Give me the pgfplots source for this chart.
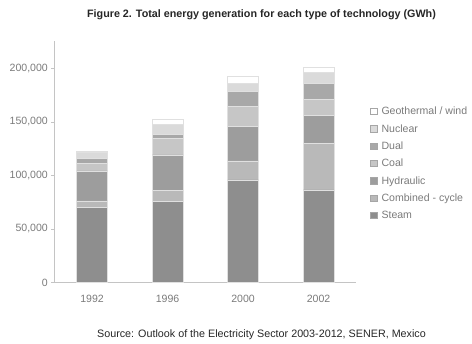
\documentclass[border=0pt]{standalone}
\usepackage{pgfplots}
\pgfplotsset{compat=1.18}
\usepackage{fontspec}
\setmainfont{Liberation Sans}
\definecolor{steam}{HTML}{8E8E8E}
\definecolor{ccycle}{HTML}{B9B9B9}
\definecolor{hydro}{HTML}{9D9D9D}
\definecolor{coal}{HTML}{C6C6C6}
\definecolor{dual}{HTML}{A8A8A8}
\definecolor{nuclear}{HTML}{DADADA}
\definecolor{geo}{HTML}{FFFFFF}
\definecolor{axgray}{HTML}{C4C4C4}
\definecolor{txtgray}{HTML}{7A7A7A}
\begin{document}
\begin{tikzpicture}[x=1bp,y=1bp]
\path[use as bounding box] (0,0) rectangle (472,343);
\begin{axis}[
  at={(72,56.5)}, anchor=south west,
  scale only axis, width=302bp, height=241bp,
  ybar stacked, bar width=31bp,
  xmin=-0.5, xmax=3.5, ymin=0, ymax=225000,
  xtick={0,1,2,3}, xticklabels={1992,1996,2000,2002},
  major tick length=3bp,
  x tick style={draw=none},
  extra x ticks={-0.5,0.5,1.5,2.5,3.5}, extra x tick labels={},
  extra x tick style={tick style={draw=axgray}},
  ytick={0,50000,100000,150000,200000},
  y tick style={draw=axgray},
  tick align=outside,
  scaled y ticks=false,
  yticklabel style={/pgf/number format/.cd, fixed, 1000 sep={,}, assume math mode=true},
  xticklabel style={yshift=-6.5bp},
  tick label style={font=\fontsize{10.6}{12}\selectfont, text=txtgray},
  axis x line*=bottom, axis y line*=left,
  axis line style={draw=axgray, -},
  xtick pos=bottom, ytick pos=left,
  enlargelimits=false,
  reverse legend,
  legend cell align=left,
  legend style={at={(1.035,0.745)}, anchor=north west, draw=none, fill=none,
    font=\fontsize{10.6}{12}\selectfont, text=txtgray, row sep=4.2bp,
    /tikz/every odd column/.append style={column sep=2.5bp}},
  legend image code/.code={\draw[#1,draw=black!35,line width=0.4bp] (0bp,-3bp) rectangle (6.5bp,3.5bp);},
  every axis plot/.append style={draw=black!12, line width=0.6bp},
]
\addplot[fill=steam] coordinates {(0,70400) (1,75400) (2,95700) (3,86400)};
\addlegendentry{Steam}
\addplot[fill=ccycle] coordinates {(0,5700) (1,10300) (2,17800) (3,43600)};
\addlegendentry{Combined - cycle}
\addplot[fill=hydro] coordinates {(0,28100) (1,33500) (2,32200) (3,25700)};
\addlegendentry{Hydraulic}
\addplot[fill=coal] coordinates {(0,6800) (1,15500) (2,18700) (3,15000)};
\addlegendentry{Coal}
\addplot[fill=dual] coordinates {(0,5000) (1,3200) (2,14100) (3,15500)};
\addlegendentry{Dual}
\addplot[fill=nuclear] coordinates {(0,5900) (1,9400) (2,7700) (3,10300)};
\addlegendentry{Nuclear}
\addplot[fill=geo] coordinates {(0,700) (1,4600) (2,6300) (3,4400)};
\addlegendentry{Geothermal / wind}
\end{axis}
\node[font=\bfseries\fontsize{10.8}{12}\selectfont, text=black!85] at (261.5,328) {Figure 2. Total energy generation for each type of technology (GWh)};
\node[font=\fontsize{10.8}{12}\selectfont, text=black!85] at (261.5,8) {Source: Outlook of the Electricity Sector 2003-2012, SENER, Mexico};
\end{tikzpicture}
\end{document}
